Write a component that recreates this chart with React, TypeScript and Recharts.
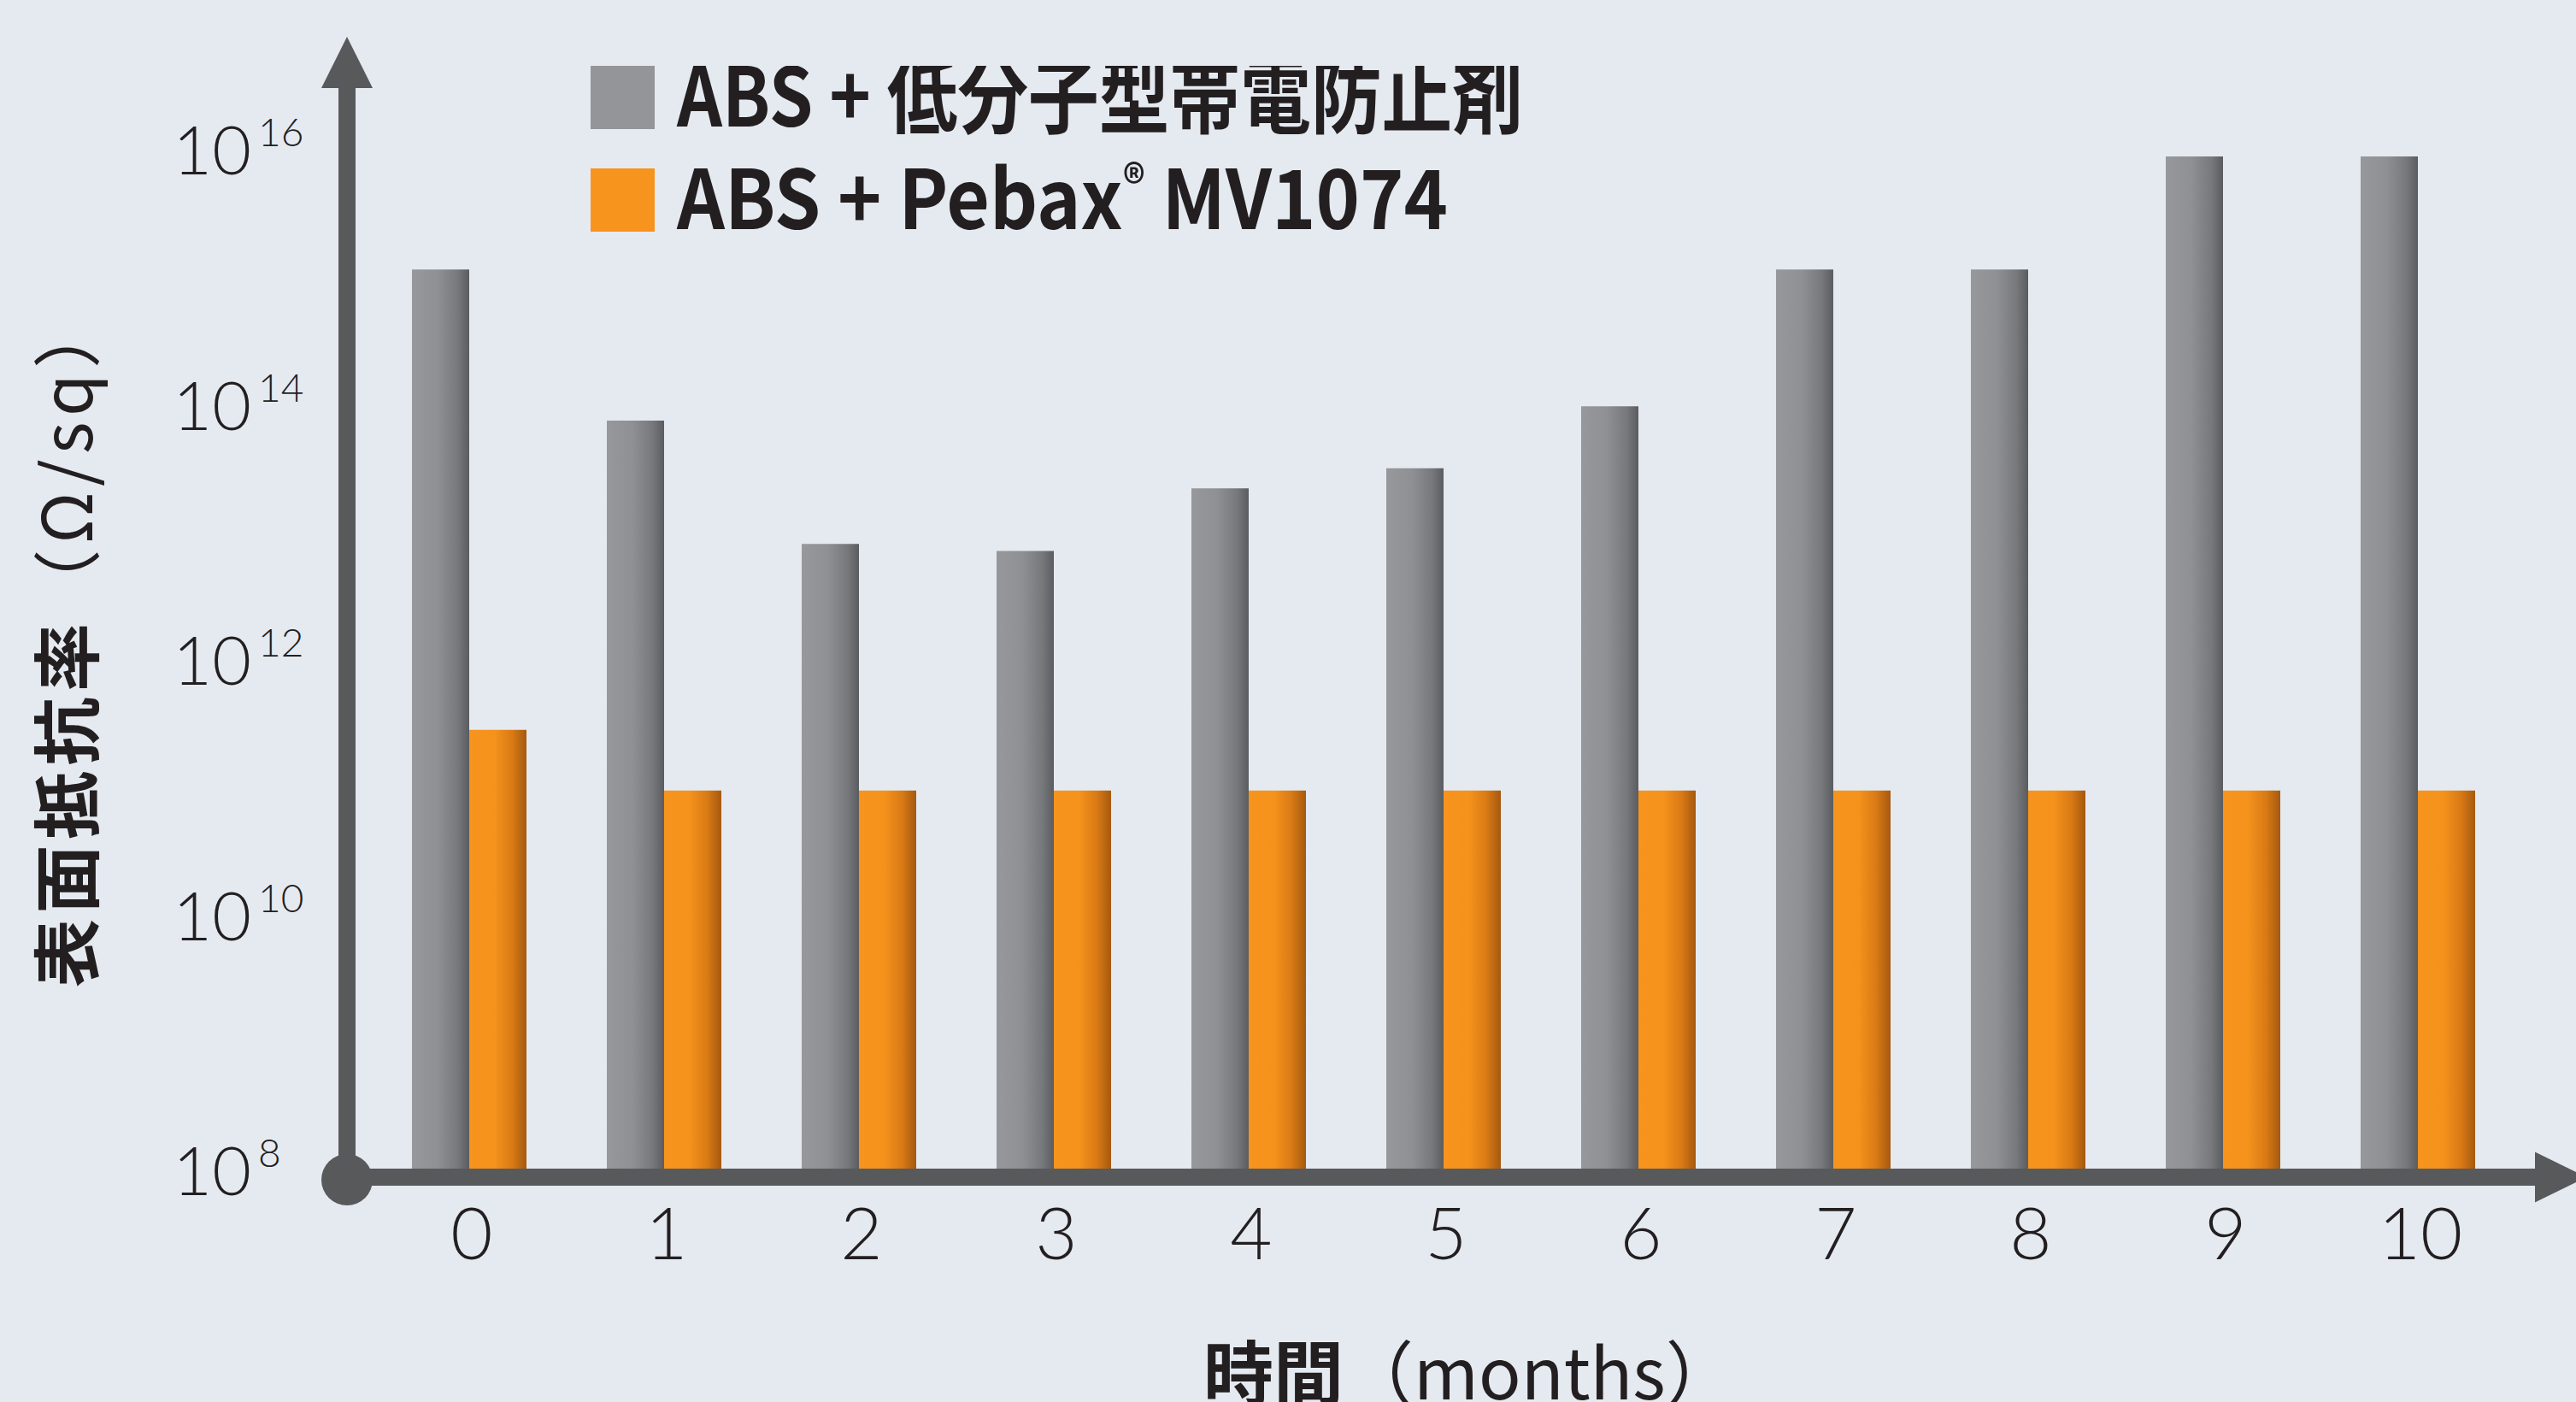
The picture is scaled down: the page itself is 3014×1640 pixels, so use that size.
import React from "react";
import { BarChart, Bar, XAxis, YAxis, Legend } from "recharts";

// months since moulding
const months = ["0", "1", "2", "3", "4", "5", "6", "7", "8", "9", "10"];

// surface resistivity (Ω/sq)
const lowMolecularAntistatic = [
  1.3e15, 8.5e13, 9.2e12, 8.1e12, 2.5e13, 3.6e13, 1.1e14, 1.3e15, 1.3e15,
  1.05e16, 1.05e16,
];
const pebaxMV1074 = [
  3.2e11, 1.07e11, 1.07e11, 1.07e11, 1.07e11, 1.07e11, 1.07e11, 1.07e11,
  1.07e11, 1.07e11, 1.07e11,
];

const yTicks = [1e8, 1e10, 1e12, 1e14, 1e16];
const seriesNames = ["ABS + 低分子型帯電防止剤", "ABS + Pebax® MV1074"];
const legendColors = ["#939598", "#f7941d"];

const data = months.map((month, i) => ({
  month,
  antistatic: lowMolecularAntistatic[i],
  pebax: pebaxMV1074[i],
}));

const INK = "#231f20";
const AXIS = "#58595b";
const TICK_FONT = "Lato, 'Open Sans', sans-serif";
const CJK_FONT = "'Noto Sans CJK JP', 'Noto Sans', sans-serif";

const PowerTick = (props: any) => {
  const { y, payload } = props;
  const exp = Math.round(Math.log10(payload.value));
  return (
    <g fill={INK} fontFamily={TICK_FONT} fontWeight={300}>
      <text x={294} y={y + 21} textAnchor="end" fontSize={79}>
        10
      </text>
      <text x={302} y={y - 12} fontSize={46}>
        {exp}
      </text>
    </g>
  );
};

const MonthTick = (props: any) => {
  const { x, payload } = props;
  return (
    <text
      x={x + 3}
      y={1473}
      textAnchor="middle"
      fill={INK}
      fontFamily={TICK_FONT}
      fontWeight={300}
      fontSize={85}
    >
      {payload.value}
    </text>
  );
};

const renderLegend = () => {
  const widths = [990, 902];
  return (
    <svg width={1120} height={200} style={{ display: "block" }}>
      {seriesNames.map((name, i) => {
        const top = i * 120;
        const parts = name.split("®");
        return (
          <g key={name}>
            <rect x={0} y={top} width={75} height={74} fill={legendColors[i]} />
            <text
              x={101}
              y={top + 71}
              fontFamily={CJK_FONT}
              fontWeight={700}
              fontSize={96}
              fill={INK}
              textLength={widths[i]}
              lengthAdjust="spacingAndGlyphs"
            >
              {parts.length > 1 ? (
                <>
                  <tspan>{parts[0]}</tspan>
                  <tspan fontSize={56} dy={-34}>
                    ®
                  </tspan>
                  <tspan dy={34}>{parts[1]}</tspan>
                </>
              ) : (
                name
              )}
            </text>
          </g>
        );
      })}
    </svg>
  );
};

const YTitle = () => (
  <text
    x={108}
    y={1155}
    transform="rotate(-90, 108, 1155)"
    textAnchor="start"
    fontFamily={CJK_FONT}
    fontSize={80}
    fill={INK}
    letterSpacing={6.5}
  >
    <tspan fontWeight={700}>表面抵抗率</tspan>
    <tspan fontWeight={400}>（Ω/sq）</tspan>
  </text>
);

const XTitle = () => (
  <text
    x={1408}
    y={1637}
    textAnchor="start"
    fontFamily={CJK_FONT}
    fontSize={82}
    fill={INK}
  >
    <tspan fontWeight={700}>時間</tspan>
    <tspan fontWeight={400}>（months）</tspan>
  </text>
);

export default function App() {
  return (
    <div style={{ width: 3014, height: 1640, background: "#e5eaf1" }}>
      <style>{`body{margin:0;overflow:hidden}`}</style>
      <BarChart
        width={3014}
        height={1640}
        data={data}
        margin={{ top: 102, right: 47, bottom: 0, left: 0 }}
        barGap={0}
        barCategoryGap={47}
      >
        <defs>
          <linearGradient id="grayBar" x1="0" y1="0" x2="1" y2="0">
            <stop offset="0" stopColor="#97989b" />
            <stop offset="0.45" stopColor="#8f9094" />
            <stop offset="0.8" stopColor="#76787c" />
            <stop offset="1" stopColor="#5a5c60" />
          </linearGradient>
          <linearGradient id="orangeBar" x1="0" y1="0" x2="1" y2="0">
            <stop offset="0" stopColor="#f7941d" />
            <stop offset="0.45" stopColor="#f4921c" />
            <stop offset="0.75" stopColor="#d97a15" />
            <stop offset="1" stopColor="#a5590f" />
          </linearGradient>
          <marker
            id="arrowUp"
            markerUnits="userSpaceOnUse"
            markerWidth={60}
            markerHeight={60}
            refX={1}
            refY={30}
            orient="auto-start-reverse"
          >
            <path d="M0,0 L60,30 L0,60 Z" fill={AXIS} />
          </marker>
          <marker
            id="arrowRight"
            markerUnits="userSpaceOnUse"
            markerWidth={60}
            markerHeight={60}
            refX={1}
            refY={30}
            orient="auto"
          >
            <path d="M0,0.5 L60,30 L0,59.5 Z" fill={AXIS} />
          </marker>
          <marker
            id="originDot"
            markerUnits="userSpaceOnUse"
            markerWidth={62}
            markerHeight={62}
            refX={31}
            refY={28}
            orient="0"
          >
            <circle cx={31} cy={31} r={30} fill={AXIS} />
          </marker>
        </defs>
        <XAxis
          dataKey="month"
          height={263}
          interval={0}
          padding={{ left: 29, right: 24 }}
          tickLine={false}
          tick={<MonthTick />}
          axisLine={{
            stroke: AXIS,
            strokeWidth: 20,
            markerEnd: "url(#arrowRight)",
          }}
          label={<XTitle />}
        />
        <YAxis
          scale="log"
          domain={[1e8, 1e16]}
          ticks={yTicks}
          allowDataOverflow
          width={406}
          padding={{ top: 81, bottom: 0 }}
          tickLine={false}
          tick={<PowerTick />}
          axisLine={{
            stroke: AXIS,
            strokeWidth: 20,
            markerStart: "url(#arrowUp)",
            markerEnd: "url(#originDot)",
          }}
          label={<YTitle />}
        />
        <Legend
          layout="vertical"
          align="center"
          verticalAlign="middle"
          width={1120}
          height={200}
          wrapperStyle={{ left: 691, top: 77, width: 1120, height: 200 }}
          content={renderLegend}
        />
        <Bar
          dataKey="antistatic"
          name={seriesNames[0]}
          fill="url(#grayBar)"
          barSize={67}
          isAnimationActive={false}
        />
        <Bar
          dataKey="pebax"
          name={seriesNames[1]}
          fill="url(#orangeBar)"
          barSize={67}
          isAnimationActive={false}
        />
      </BarChart>
    </div>
  );
}
